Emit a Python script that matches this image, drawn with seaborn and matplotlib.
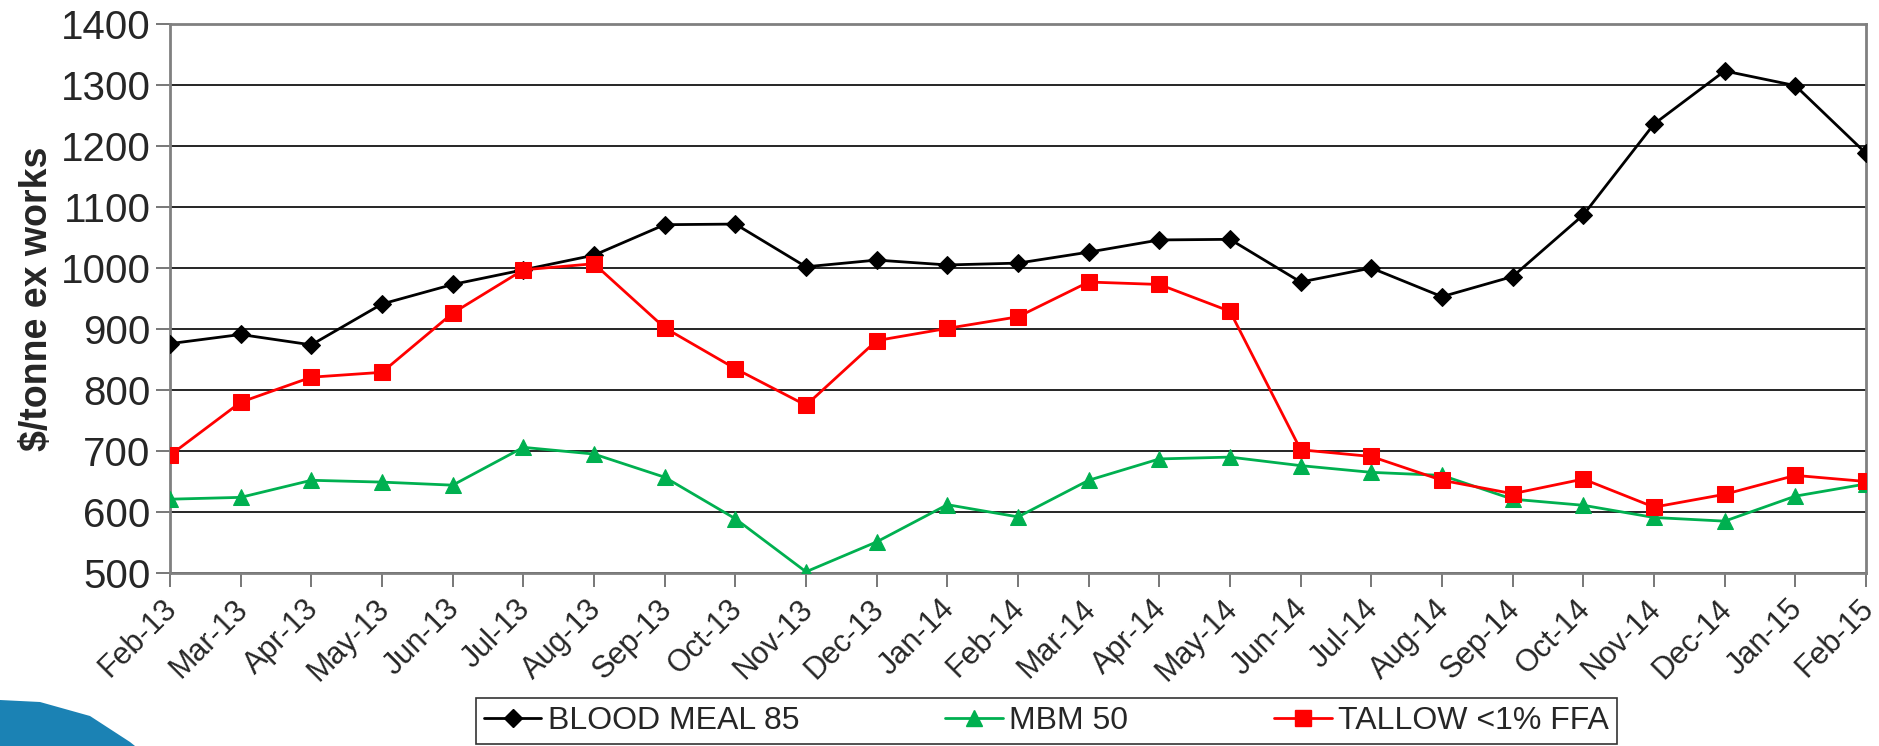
import numpy as np
import pandas as pd
import matplotlib
matplotlib.use("Agg")
import matplotlib.pyplot as plt
import matplotlib.transforms as mtransforms
from matplotlib.patches import Polygon
from matplotlib.lines import Line2D
import seaborn as sns

# month labels on the x axis
months = ["Feb-13", "Mar-13", "Apr-13", "May-13", "Jun-13", "Jul-13", "Aug-13",
          "Sep-13", "Oct-13", "Nov-13", "Dec-13", "Jan-14", "Feb-14", "Mar-14",
          "Apr-14", "May-14", "Jun-14", "Jul-14", "Aug-14", "Sep-14", "Oct-14",
          "Nov-14", "Dec-14", "Jan-15", "Feb-15"]

# $/tonne ex works
blood_meal = [876, 891, 874, 941, 973, 997, 1021, 1071, 1072, 1002, 1013, 1005,
              1008, 1026, 1046, 1047, 977, 1000, 953, 986, 1087, 1236, 1323,
              1299, 1188]
mbm = [621, 624, 652, 649, 644, 706, 695, 657, 589, 502, 551, 612, 592, 652,
       687, 690, 676, 665, 660, 621, 611, 591, 585, 626, 646]
tallow = [693, 780, 821, 829, 926, 997, 1007, 902, 835, 775, 881, 901, 920,
          977, 973, 929, 702, 691, 652, 630, 654, 608, 629, 660, 650]

series_names = ["BLOOD MEAL 85", "MBM 50", "TALLOW <1% FFA"]
series_colors = ["#000000", "#00B050", "#FF0000"]
series_markers = ["D", "^", "s"]
series_msize = [9, 11, 11]

y_ticks = list(range(500, 1401, 100))

sns.set_theme(style="white")
plt.rcParams["font.family"] = ["Liberation Sans", "DejaVu Sans"]

pos = np.arange(len(months))
df = pd.DataFrame({
    "pos": np.tile(pos, 3),
    "price": blood_meal + mbm + tallow,
    "series": np.repeat(series_names, len(months)),
})

fig = plt.figure(figsize=(18.79, 7.46), dpi=100)
ax = fig.add_axes([170 / 1879, 1 - 573 / 746, 1696 / 1879, 549 / 746])

handles = []
for name, col, mk, ms in zip(series_names, series_colors, series_markers, series_msize):
    sub = df[df["series"] == name]
    sns.lineplot(data=sub, x="pos", y="price", ax=ax, color=col, marker=mk,
                 markersize=ms, markeredgecolor=col, linewidth=2, legend=False,
                 zorder=3)
    handles.append(Line2D([], [], color=col, marker=mk, markersize=ms,
                          markeredgecolor=col, linewidth=2))

ax.set_xlim(0, len(months) - 1)
ax.set_ylim(500, 1400)
ax.set_yticks(y_ticks)
ax.set_yticklabels([str(v) for v in y_ticks], fontsize=29)
ax.set_xticks(pos)
ax.set_xticklabels(months, rotation=45, ha="right", rotation_mode="anchor",
                   fontsize=22)
ax.set_xlabel("")
ax.set_ylabel("$/tonne ex works", fontsize=27, fontweight="bold", labelpad=4)

ax.grid(axis="y", color="black", linewidth=1.2)
ax.grid(axis="x", visible=False)
for s in ax.spines.values():
    s.set_color("#808080")
    s.set_linewidth(2)
    s.set_visible(True)
ax.tick_params(axis="both", direction="out", length=10, width=1.2,
               color="#606060", left=True, bottom=True, pad=4)
ax.tick_params(axis="x", pad=5)

# nudge the rotated labels left so the last one stays inside the figure
shift = mtransforms.ScaledTranslation(-8 / 100, 0, fig.dpi_scale_trans)
for lab in ax.get_xticklabels():
    lab.set_transform(lab.get_transform() + shift)

leg = fig.legend(handles, series_names, loc="center", ncol=3, mode="expand",
                 bbox_to_anchor=(476 / 1879, 2 / 746, 1141 / 1879, 46 / 746),
                 fontsize=23, frameon=True, fancybox=False, handlelength=1.8,
                 borderpad=0.25, handletextpad=0.2, borderaxespad=0)
leg.get_frame().set_edgecolor("black")
leg.get_frame().set_linewidth(1.2)

# slide decoration swoosh, bottom left
fig.patches.append(Polygon([[0, 0], [0, 46 / 746], [40 / 1879, 44 / 746],
                            [90 / 1879, 30 / 746], [130 / 1879, 4 / 746],
                            [135 / 1879, 0]], closed=True,
                           transform=fig.transFigure,
                           facecolor="#1b82b4", edgecolor="none"))

fig.savefig("out.png", dpi=100)
